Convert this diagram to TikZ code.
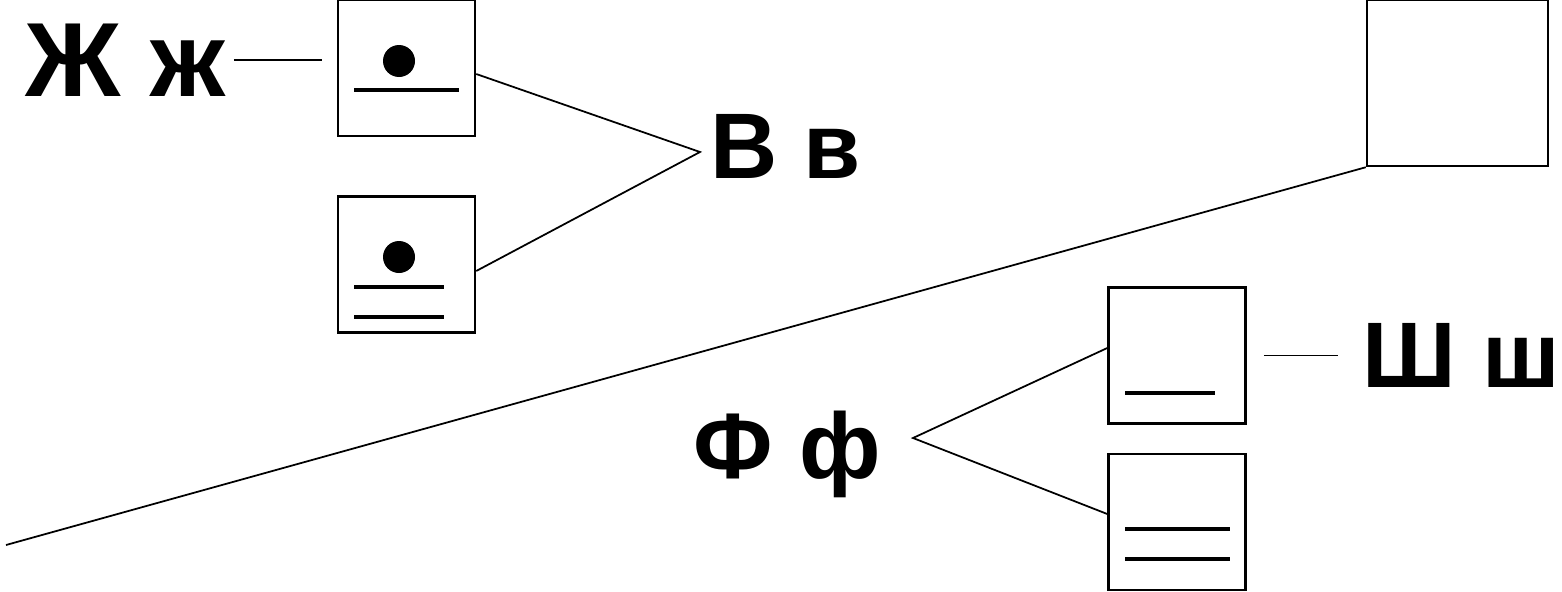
\documentclass[tikz,border=0pt]{standalone}
\usepackage{fontspec}
\setmainfont{Liberation Sans}
\usepackage{tikz}
\usetikzlibrary{arrows.meta,calc}

\begin{document}
\begin{tikzpicture}[>=Stealth,
    box/.style={draw, line width=0.7pt, minimum width=1.37cm, minimum height=1.36cm, inner sep=0pt},
    bar/.style={line width=1.4pt},
    link/.style={line width=0.5pt},
    lbl/.style={anchor=base west, inner sep=0pt, font=\bfseries\fontsize{26.5}{30}\selectfont}]
    \useasboundingbox (0,0) rectangle (15.62,5.91);

    % 左上两个方框
    \node[box] (b1) at (4.065,5.23) {};
    \node[box] (b2) at (4.065,3.265) {};
    \fill ($(b1)+(-0.075,0.07)$) circle (0.16);
    \draw[bar] ($(b1)+(-0.525,-0.22)$) -- ($(b1)+(0.525,-0.22)$);
    \fill ($(b2)+(-0.075,0.075)$) circle (0.16);
    \draw[bar] ($(b2)+(-0.525,-0.225)$) -- ($(b2)+(0.375,-0.225)$);
    \draw[bar] ($(b2)+(-0.525,-0.525)$) -- ($(b2)+(0.375,-0.525)$);

    % 字母 Ж ж 与 В в
    \node[lbl, font=\bfseries\fontsize{30}{34}\selectfont] (zh) at (0.25,4.95) {Ж ж};
    \draw[link, shorten <=0.08cm, shorten >=0.15cm] (zh.east) -- (zh.east -| b1.west);
    \coordinate (vtip) at (7.00,4.39);
    \node[lbl] (ve) at (7.10,4.13) {В в};
    \draw[link] ([yshift=-0.06cm]b1.east) -- (vtip) -- ([yshift=-0.065cm]b2.east);

    % 右上空方框及长斜线
    \node[box, minimum width=1.81cm, minimum height=1.66cm] (b3) at (14.575,5.08) {};
    \coordinate (tail) at (0.06,0.46);
    \draw[link] (b3.south west) -- (tail);

    % 右下两个方框
    \node[box] (b4) at (11.77,2.355) {};
    \node[box] (b5) at (11.77,0.69) {};
    \draw[bar] ($(b4)+(-0.52,-0.375)$) -- ($(b4)+(0.38,-0.375)$);
    \draw[bar] ($(b5)+(-0.52,-0.07)$) -- ($(b5)+(0.53,-0.07)$);
    \draw[bar] ($(b5)+(-0.52,-0.37)$) -- ($(b5)+(0.53,-0.37)$);

    % 字母 Ф ф 与 Ш ш
    \node[lbl] (fe) at (6.93,1.13) {Ф ф};
    \coordinate (ftip) at (9.13,1.53);
    \draw[link] ([yshift=0.075cm]b4.west) -- (ftip) -- ([yshift=0.08cm]b5.west);
    \node[lbl] (sha) at (13.62,2.04) {Ш ш};
    \draw[link, shorten <=0.17cm, shorten >=0.24cm] (b4.east) -- (b4.east -| sha.west);
\end{tikzpicture}
\end{document}
